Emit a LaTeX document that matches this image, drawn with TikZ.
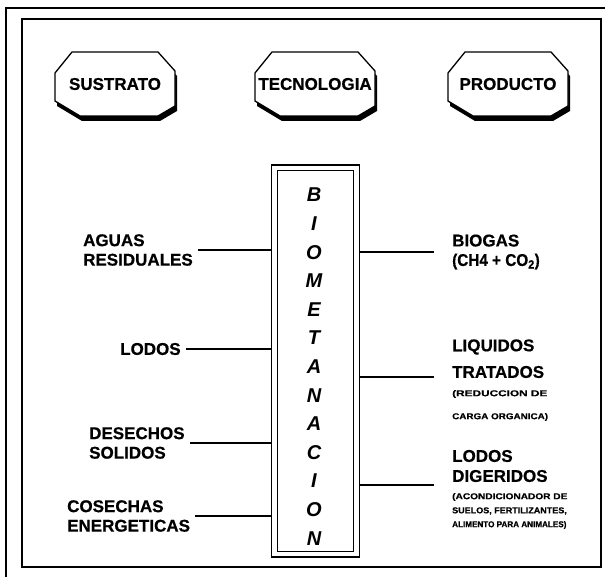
\documentclass[tikz,border=0pt]{standalone}
\usepackage{graphicx}
\usepackage{fontspec}
\setmainfont{Liberation Sans}[BoldFeatures={FakeBold=0.6}]
% small print squeezed or stretched to a common measure
\newcommand{\fitline}[2]{\scalebox{#1}[1]{#2}}
\begin{document}
\begin{tikzpicture}[x=1pt,y=-1pt,
  frame/.style={line width=1.4pt},
  link/.style={line width=1.2pt},
  head/.style={font=\bfseries\fontsize{17}{18}\selectfont, inner sep=0pt},
  lab/.style={font=\bfseries\fontsize{17}{19.5}\selectfont, inner sep=0pt, align=left},
  note/.style={font=\bfseries\fontsize{8.5}{11}\selectfont, inner sep=0pt, anchor=west},
  big/.style={font=\bfseries\itshape\fontsize{20}{22}\selectfont, inner sep=0pt},
  octa/.pic={
    \fill[shift={(2,5)}] (-60,-11) -- (-43,-32) -- (43,-32) -- (60,-13) -- (60,22) -- (43,32) -- (-35,32) -- (-60,17) -- cycle;
    \filldraw[fill=white, line width=1.3pt] (-60,-11) -- (-43,-32) -- (43,-32) -- (60,-13) -- (60,22) -- (43,32) -- (-35,32) -- (-60,17) -- cycle;
  }
]
\useasboundingbox (0,0) rectangle (605,577);

% page frames
\draw[frame] (6,577) -- (6,8) -- (605,8);
\draw[frame] (22,19) rectangle (601,567);

% column headings
\foreach \nm/\cx/\txt in {sus/115/SUSTRATO, tec/315/TECNOLOGIA, pro/508/PRODUCTO} {
  \pic at (\cx,84) {octa};
  \node[head] (\nm) at (\cx,84) {\txt};
}

% process column
\node[draw, line width=1.3pt, double, double distance=4.4pt, outer sep=3.5pt,
      minimum width=82pt, minimum height=386pt, inner sep=0pt] (box) at (315.5,361) {};
\foreach \L [count=\i] in {B,I,O,M,E,T,A,N,A,C,I,O,N}
  \node[big] (ltr\i) at (314,{195+(\i-1)*28.6}) {\L};

% substrates
\node[lab, anchor=west] (agu) at (83,250) {AGUAS\\RESIDUALES};
\node[lab, anchor=west] (lod) at (120,349) {LODOS};
\node[lab, anchor=west] (des) at (89,443) {DESECHOS\\SOLIDOS};
\node[lab, anchor=west] (cos) at (67,516) {COSECHAS\\ENERGETICAS};
\foreach \s in {agu,lod,des,cos}
  \draw[link, shorten <=5pt] (\s.east) -- (\s.east -| box.west);

% products
\node[lab, anchor=west] (bio) at (452,252) {BIOGAS\\\fitline{0.9}{(CH4 + CO\textsubscript{2})}};
\node[lab, anchor=west] (liqa) at (452,347) {LIQUIDOS};
\node[lab, anchor=west] (liqb) at (452,372) {TRATADOS};
\node[note] (n1a) at (452,394) {\fitline{1.39}{(REDUCCION DE}};
\node[note] (n1b) at (452,417) {\fitline{1.16}{CARGA ORGANICA)}};
\node[lab, anchor=west] (doda) at (452,456) {LODOS};
\node[lab, anchor=west] (dodb) at (452,476) {DIGERIDOS};
\node[note] (n2a) at (452,497) {\fitline{1.19}{(ACONDICIONADOR DE}};
\node[note] (n2b) at (452,511) {\fitline{1.06}{SUELOS, FERTILIZANTES,}};
\node[note] (n2c) at (452,525) {\fitline{0.955}{ALIMENTO PARA ANIMALES)}};
\draw[link] (box.east |- bio.west) -- ++(74,0) coordinate (bioend);
\draw[link] (box.east |- 0,377) coordinate (liqstart) -- (liqstart -| bioend) coordinate (liqend);
\draw[link] (box.east |- 0,485) coordinate (dodstart) -- (dodstart -| bioend) coordinate (dodend);
\end{tikzpicture}
\end{document}
